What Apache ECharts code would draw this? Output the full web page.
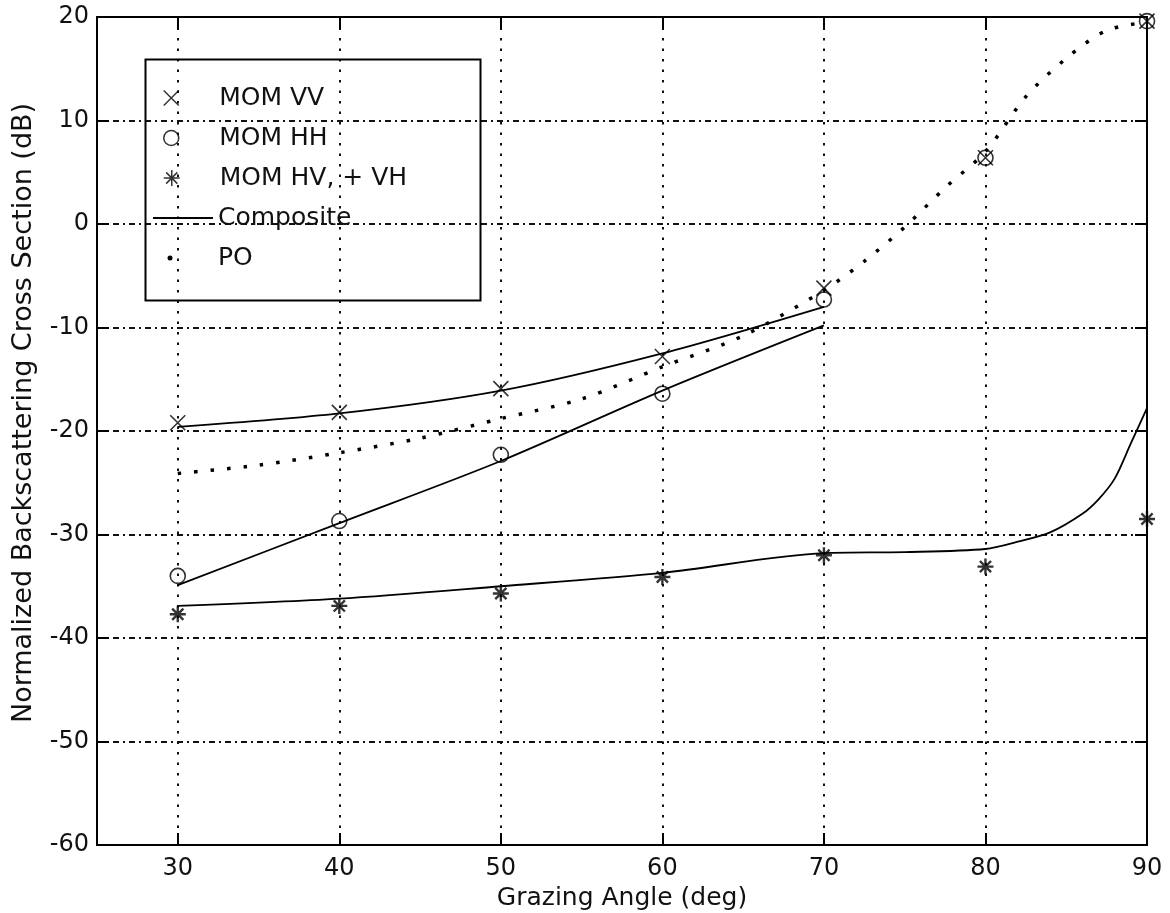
<!DOCTYPE html>
<html>
<head>
<meta charset="utf-8">
<script src="https://cdn.jsdelivr.net/npm/echarts@6/dist/echarts.min.js"></script>
<style>
html,body{margin:0;padding:0;background:#fff;}
#chart{width:1170px;height:913px;}
</style>
</head>
<body>
<div id="chart"></div>
<script>
// ---- data ----
const momAngles = [30, 40, 50, 60, 70, 80, 90];
const momVV = [-19.2, -18.2, -15.9, -12.8, -6.2, 6.4, 19.6];
const momHH = [-34.0, -28.7, -22.3, -16.4, -7.3, 6.4, 19.6];
const momHV = [-37.7, -36.9, -35.7, -34.1, -32.0, -33.1, -28.5];

const compAngles = [30, 40, 50, 60, 70];
const compVV = [-19.6, -18.3, -16.1, -12.5, -8.0];
const compHH = [-34.9, -28.9, -22.9, -16.1, -9.8];

const compHVAngles = [30, 40, 50, 60, 70, 75, 80, 82, 84, 86, 87, 88, 89, 90];
const compHV = [-36.9, -36.2, -35.0, -33.7, -31.8, -31.7, -31.4, -30.7, -29.8, -28.0, -26.6, -24.6, -21.2, -17.8];

const poAngles = [30, 35, 40, 45, 50, 55, 60, 65, 70, 72.5, 75, 77.5, 80, 82.5, 85, 87.5, 90];
const poValues = [-24.1, -23.3, -22.1, -20.7, -18.8, -16.9, -13.8, -10.8, -6.4, -3.6, -0.3, 3.5, 7.0, 12.3, 16.0, 18.7, 19.5];

const xMin = 25, xMax = 90, yMin = -60, yMax = 20, yStep = 10;

const legendNames = ['MOM VV', 'MOM HH', 'MOM HV, + VH', 'Composite', 'PO'];
const xName = 'Grazing Angle (deg)';
const yName = 'Normalized Backscattering Cross Section (dB)';

// ---- helpers ----
const pairs = (xs, ys) => xs.map((x, i) => [x, ys[i]]);
const FONT = 'DejaVu Sans';
const INK = '#111';

const X_SYM = 'path://M0,0L10,10M10,0L0,10';
const AST_SYM = 'path://M5,0L5,10M0,5L10,5M1.5,1.5L8.5,8.5M8.5,1.5L1.5,8.5';

const frameAxis = {
  axisLine: { onZero: false, lineStyle: { color: '#000', width: 2 } },
  axisTick: { inside: true, length: 12, lineStyle: { color: '#000', width: 2 } }
};

const chart = echarts.init(document.getElementById('chart'), null, { renderer: 'canvas' });

function legendRow(name, left, centerY, w, h, icon, extra) {
  const item = { name: name };
  if (icon) item.icon = icon;
  return Object.assign({
    data: [item],
    orient: 'horizontal',
    left: left,
    top: centerY - 12.5,
    itemWidth: w,
    itemHeight: h,
    padding: 0,
    selectedMode: false,
    textStyle: { fontFamily: FONT, fontSize: 25, color: INK },
    itemStyle: { borderColor: '#000', borderWidth: 1.5 }
  }, extra || {});
}

const option = {
  animation: false,
  backgroundColor: '#fff',
  grid: { left: 97, right: 23, top: 17, bottom: 68, outerBoundsMode: 'none', containLabel: false },
  xAxis: [
    Object.assign({
      type: 'value', min: xMin, max: xMax, splitNumber: 6, position: 'bottom',
      name: xName, nameLocation: 'middle', nameGap: 40,
      nameTextStyle: { fontFamily: FONT, fontSize: 25, color: INK },
      axisLabel: { showMinLabel: false, margin: 12, fontFamily: FONT, fontSize: 24, color: INK },
      splitLine: { show: true, lineStyle: { color: '#111', width: 2, type: [2.5, 8] } }
    }, frameAxis),
    Object.assign({
      type: 'value', min: xMin, max: xMax, splitNumber: 6, position: 'top',
      axisLabel: { show: false }, splitLine: { show: false }
    }, frameAxis)
  ],
  yAxis: [
    Object.assign({
      type: 'value', min: yMin, max: yMax, interval: yStep, position: 'left',
      name: yName, nameLocation: 'middle', nameGap: 60,
      nameTextStyle: { fontFamily: FONT, fontSize: 27, color: INK, padding: [0, 0, 0, 36] },
      axisLabel: { margin: 8, fontFamily: FONT, fontSize: 24, color: INK },
      splitLine: { show: true, lineStyle: { color: '#111', width: 1.8, type: [6, 4, 2, 4] } }
    }, frameAxis),
    Object.assign({
      type: 'value', min: yMin, max: yMax, interval: yStep, position: 'right',
      axisLabel: { show: false }, splitLine: { show: false }
    }, frameAxis)
  ],
  legend: [
    legendRow(legendNames[0], 163, 98, 86, 15),
    legendRow(legendNames[1], 163, 138, 86, 15),
    legendRow(legendNames[2], 163, 178, 86, 16),
    legendRow(legendNames[3], 153, 218, 60, 14, 'path://M0,0H60V2H0Z', { itemStyle: { borderWidth: 0 } }),
    legendRow(legendNames[4], 167.5, 258, 86, 5, 'circle', { itemStyle: { borderWidth: 0 } })
  ],
  graphic: [
    { type: 'rect', left: 143, top: 57, z: 100, silent: true,
      shape: { width: 335, height: 241 },
      style: { fill: 'none', stroke: '#000', lineWidth: 2 } }
  ],
  series: [
    { name: 'PO', type: 'line', data: pairs(poAngles, poValues), smooth: 0.3,
      symbol: 'none', color: '#000',
      lineStyle: { color: '#000', width: 3.5, type: [3.5, 13], cap: 'butt' }, z: 3 },
    { name: 'Composite', type: 'line', data: pairs(compAngles, compVV), smooth: 0.3,
      symbol: 'none', color: '#000', lineStyle: { color: '#000', width: 1.8 }, z: 4 },
    { name: 'Composite', type: 'line', data: pairs(compAngles, compHH), smooth: 0.3,
      symbol: 'none', color: '#000', lineStyle: { color: '#000', width: 1.8 }, z: 4 },
    { name: 'Composite', type: 'line', data: pairs(compHVAngles, compHV), smooth: 0.3,
      symbol: 'none', color: '#000', lineStyle: { color: '#000', width: 1.8 }, z: 4 },
    { name: 'MOM VV', type: 'scatter', data: pairs(momAngles, momVV), symbol: X_SYM, symbolSize: 15,
      itemStyle: { color: 'transparent', borderColor: '#000', borderWidth: 1.6 }, z: 5 },
    { name: 'MOM HH', type: 'scatter', data: pairs(momAngles, momHH), symbol: 'circle', symbolSize: 15,
      itemStyle: { color: 'transparent', borderColor: '#000', borderWidth: 1.6 }, z: 5 },
    { name: 'MOM HV, + VH', type: 'scatter', data: pairs(momAngles, momHV), symbol: AST_SYM, symbolSize: 16,
      itemStyle: { color: 'transparent', borderColor: '#000', borderWidth: 2.4 }, z: 5 }
  ]
};

chart.setOption(option);
</script>
</body>
</html>
